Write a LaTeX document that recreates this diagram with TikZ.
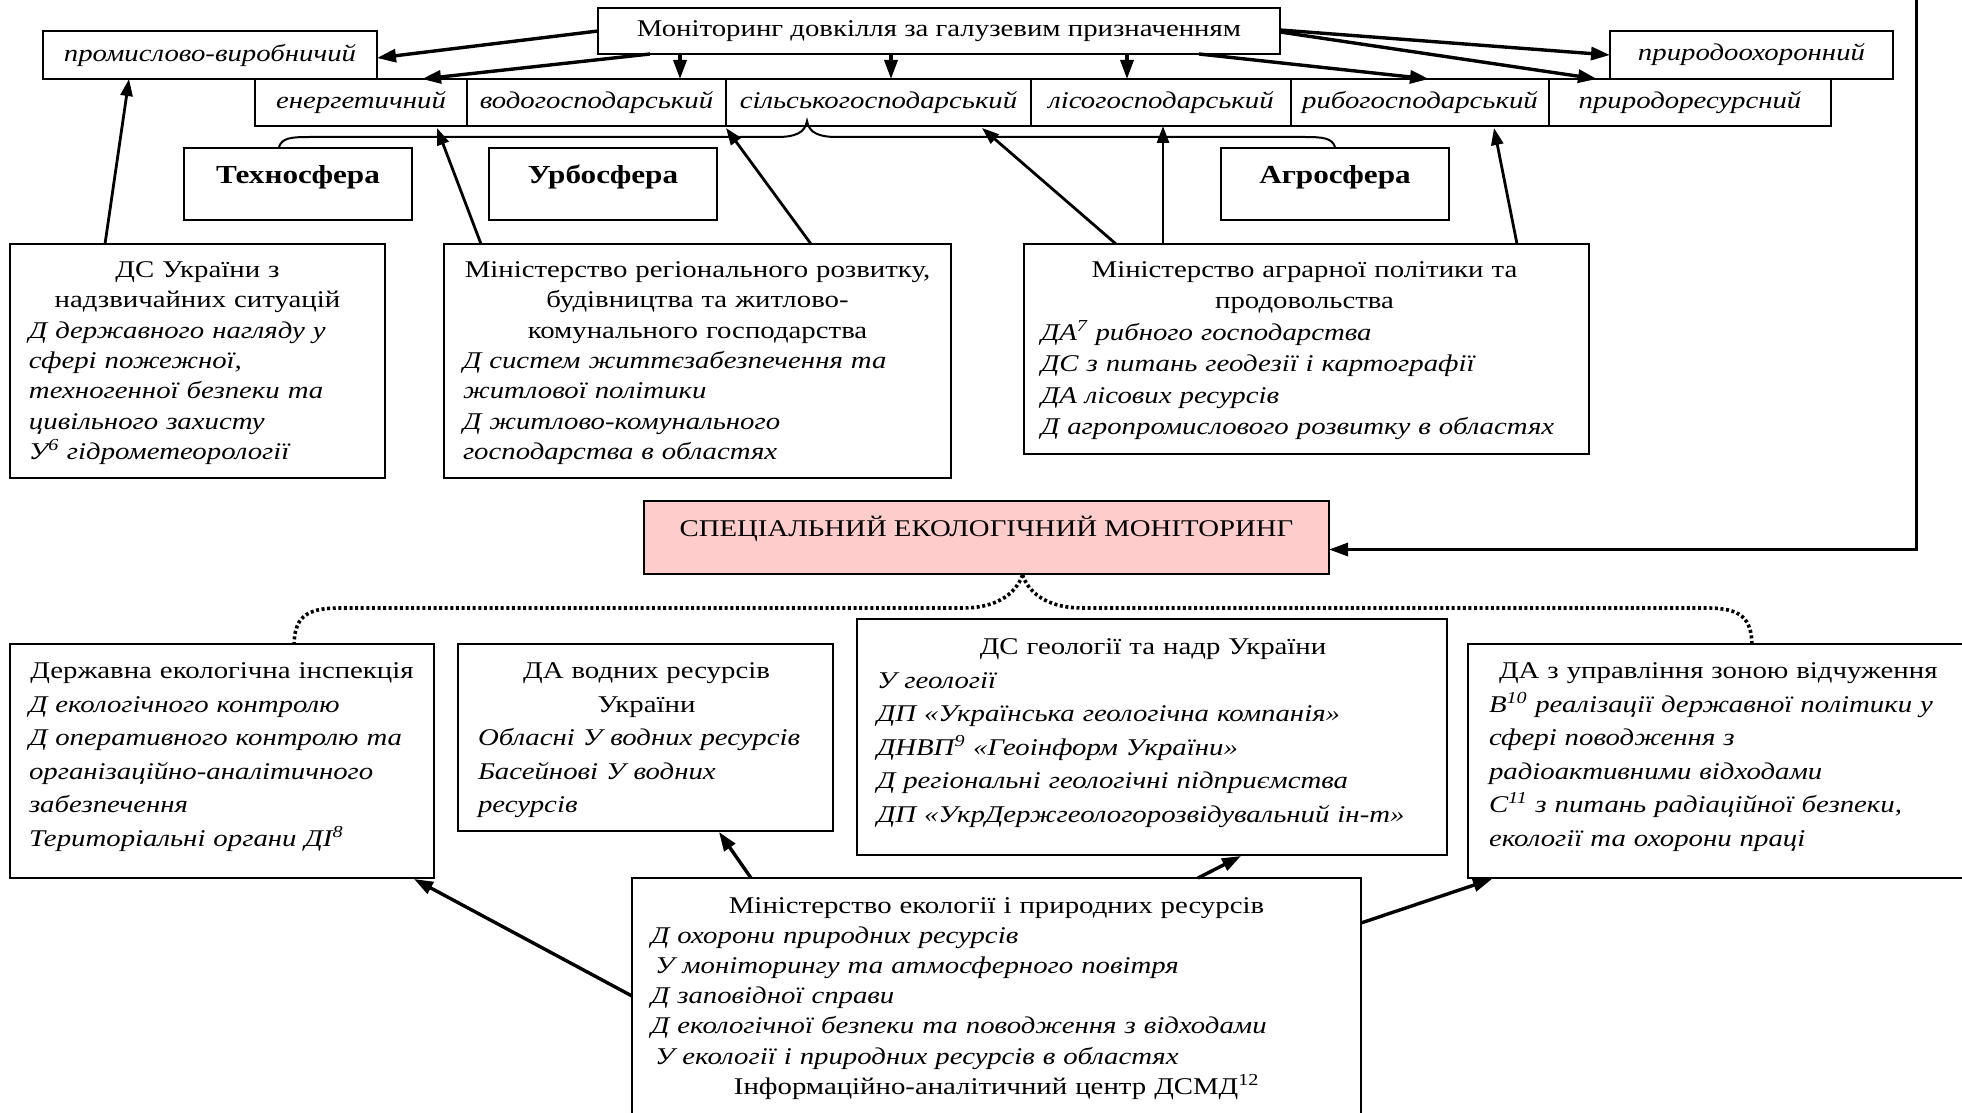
\documentclass[tikz,border=0pt]{standalone}
\usepackage{fontspec}
\setmainfont{Liberation Serif}[FakeStretch=1.2]
\usetikzlibrary{arrows.meta,calc}
\definecolor{specfill}{RGB}{255,204,204}
\newcommand\midline[1]{\centerline{#1}}
\newcommand\itline[1]{\leftline{\itshape #1}}
\begin{document}
\begin{tikzpicture}[x=1pt,y=-1pt,
  every node/.style={inner sep=0pt, outer sep=0pt},
  frame/.style={draw=black, line width=2.4pt, anchor=north west},
  single/.style={frame, font=\fontsize{24}{29}\selectfont},
  cell/.style={frame, minimum height=47pt, font=\fontsize{24}{29}\selectfont\itshape},
  sphere/.style={frame, minimum width=228pt, minimum height=72pt, font=\fontsize{26}{30}\selectfont\bfseries},
  body/.style={anchor=north west, align=left, text width=#1},
  tight/.style={font=\fontsize{24}{30.4}\selectfont},
  loose/.style={font=\fontsize{24}{33.5}\selectfont},
  link/.style={line width=3.4pt, -{Triangle[length=19pt,width=13pt]}},
  feeder/.style={line width=2.8pt, -{Triangle[length=17pt,width=12pt]}},
  brace/.style={line width=2pt},
  dots/.style={line width=3.6pt, dash pattern=on 3pt off 2.6pt},
]
\fill[white] (0,0) rectangle (1962,1113);
\useasboundingbox (0,0) rectangle (1962,1113);

% --- top level: branch monitoring
\node[single, minimum width=682pt, minimum height=46pt] (title) at (598,8)
  {Моніторинг довкілля за галузевим призначенням};
\node[single, minimum width=334pt, minimum height=48pt, font=\fontsize{24}{29}\selectfont\itshape] (prom) at (43,31)
  {промислово-виробничий};
\node[single, minimum width=283pt, minimum height=48pt, font=\fontsize{24}{29}\selectfont\itshape] (prirod) at (1610,31)
  {природоохоронний};

% --- row of branches
\node[cell, minimum width=212pt] (en)   at (255,79)  {енергетичний};
\node[cell, minimum width=259pt] (vod)  at (467,79)  {водогосподарський};
\node[cell, minimum width=305pt] (sil)  at (726,79)  {сільськогосподарський};
\node[cell, minimum width=260pt] (lis)  at (1031,79) {лісогосподарський};
\node[cell, minimum width=258pt] (ryb)  at (1291,79) {рибогосподарський};
\node[cell, minimum width=282pt] (pres) at (1549,79) {природоресурсний};

% --- spheres
\node[sphere] (techno) at (184,148) {\raisebox{7pt}[\height][\depth]{Техносфера}};
\node[sphere] (urbo)   at (489,148) {\raisebox{7pt}[\height][\depth]{Урбосфера}};
\node[sphere] (agro)   at (1221,148) {\raisebox{7pt}[\height][\depth]{Агросфера}};

% --- ministries of the upper tier
\node[frame, minimum width=375pt, minimum height=234pt] (dsns) at (10,244) {};
\node[body=337pt, tight] (dsns-t) at ([xshift=19pt,yshift=-12pt]dsns.north west) {%
  \midline{\strut ДС України з}
  \midline{надзвичайних ситуацій}
  \itline{Д державного нагляду у}
  \itline{сфері пожежної,}
  \itline{техногенної безпеки та}
  \itline{цивільного захисту}
  \itline{У\textsuperscript{6} гідрометеорології}};

\node[frame, minimum width=507pt, minimum height=234pt] (minreg) at (444,244) {};
\node[body=469pt, tight] (minreg-t) at ([xshift=19pt,yshift=-12pt]minreg.north west) {%
  \midline{\strut Міністерство регіонального розвитку,}
  \midline{будівництва та житлово-}
  \midline{комунального господарства}
  \itline{Д систем життєзабезпечення та}
  \itline{житлової політики}
  \itline{Д житлово-комунального}
  \itline{господарства в областях}};

\node[frame, minimum width=565pt, minimum height=210pt] (minagr) at (1024,244) {};
\node[body=527pt, font=\fontsize{24}{31.5}\selectfont] (minagr-t) at ([xshift=17pt,yshift=-11pt]minagr.north west) {%
  \midline{\strut Міністерство аграрної політики та}
  \midline{продовольства}
  \itline{ДА\textsuperscript{7} рибного господарства}
  \itline{ДС з питань геодезії і картографії}
  \itline{ДА лісових ресурсів}
  \itline{Д агропромислового розвитку в областях}};

% --- special monitoring
\node[frame, fill=specfill, minimum width=685pt, minimum height=73pt, font=\fontsize{24}{29}\selectfont] (spec) at (644,501)
  {\raisebox{8.5pt}[\height][\depth]{СПЕЦІАЛЬНИЙ ЕКОЛОГІЧНИЙ МОНІТОРИНГ}};

% --- lower tier
\node[frame, minimum width=424pt, minimum height=234pt] (dei) at (10,644) {};
\node[body=386pt, loose] (dei-t) at ([xshift=19pt,yshift=-11.5pt]dei.north west) {%
  \midline{\strut Державна екологічна інспекція}
  \itline{Д екологічного контролю}
  \itline{Д оперативного контролю та}
  \itline{організаційно-аналітичного}
  \itline{забезпечення}
  \itline{Територіальні органи ДІ\textsuperscript{8}}};

\node[frame, minimum width=375pt, minimum height=187pt] (dav) at (458,644) {};
\node[body=337pt, loose] (dav-t) at ([xshift=20pt,yshift=-11.5pt]dav.north west) {%
  \midline{\strut ДА водних ресурсів}
  \midline{України}
  \itline{Обласні У водних ресурсів}
  \itline{Басейнові У водних}
  \itline{ресурсів}};

\node[frame, minimum width=590pt, minimum height=236pt] (dsg) at (857,619) {};
\node[body=552pt, loose] (dsg-t) at ([xshift=20pt,yshift=-12.5pt]dsg.north west) {%
  \midline{\strut ДС геології та надр України}
  \itline{У геології}
  \itline{ДП «Українська геологічна компанія»}
  \itline{ДНВП\textsuperscript{9} «Геоінформ України»}
  \itline{Д регіональні геологічні підприємства}
  \itline{ДП «УкрДержгеологорозвідувальний ін-т»}};

\node[frame, minimum width=500pt, minimum height=234pt] (dazv) at (1468,644) {};
\node[body=462pt, loose] (dazv-t) at ([xshift=21pt,yshift=-11.5pt]dazv.north west) {%
  \leftline{\strut\hspace*{10pt}ДА з управління зоною відчуження}
  \itline{В\textsuperscript{10} реалізації державної політики у}
  \itline{сфері поводження з}
  \itline{радіоактивними відходами}
  \itline{С\textsuperscript{11} з питань радіаційної безпеки,}
  \itline{екології та охорони праці}};

\node[frame, minimum width=729pt, minimum height=260pt] (minekol) at (632,878) {};
\node[body=691pt, font=\fontsize{24}{30.2}\selectfont] (minekol-t) at ([xshift=19pt,yshift=-14pt]minekol.north west) {%
  \midline{\strut Міністерство екології і природних ресурсів}
  \itline{Д охорони природних ресурсів}
  \itline{\hspace*{4pt}У моніторингу та атмосферного повітря}
  \itline{Д заповідної справи}
  \itline{Д екологічної безпеки та поводження з відходами}
  \itline{\hspace*{4pt}У екології і природних ресурсів в областях}
  \midline{Інформаційно-аналітичний центр ДСМД\textsuperscript{12}}};

% --- arrows from the branch title
\draw[link] (title.west) -- ([yshift=-3pt]prom.east);
\draw[link] ([xshift=52pt]title.south west) -- ([xshift=61pt]en.north);
\draw[link] ([xshift=82pt]title.south west) -- ([xshift=82pt]title.south west |- vod.north);
\draw[link] ([xshift=293pt]title.south west) -- ([xshift=293pt]title.south west |- sil.north);
\draw[link] ([xshift=529pt]title.south west) -- ([xshift=529pt]title.south west |- lis.north);
\draw[link] ([xshift=-81pt]title.south east) -- ([xshift=9pt]ryb.north);
\draw[link] ([yshift=-1pt]title.east) -- ([xshift=48pt]pres.north west);
\draw[link] ([yshift=1pt]title.east) -- (prirod.west);

% --- ministries pointing at branches
\draw[feeder] ([xshift=95pt]dsns.north west) -- ([xshift=86pt]prom.south west);
\draw[feeder] ([xshift=37pt]minreg.north west) -- ([xshift=-30pt,yshift=-2pt]en.south east);
\draw[feeder] ([xshift=367pt]minreg.north west) -- ([yshift=-2pt]vod.south east);
\draw[feeder] ([xshift=92pt]minagr.north west) -- ([xshift=-49pt,yshift=-2pt]sil.south east);
\draw[feeder] ([xshift=139pt]minagr.north west) -- ([xshift=139pt]minagr.north west |- lis.south);
\draw[feeder] ([xshift=-72pt]minagr.north east) -- ([xshift=-55pt,yshift=-2pt]ryb.south east);

% --- brace grouping the spheres
\coordinate (bl) at ([xshift=-19pt,yshift=1pt]techno.north);
\coordinate (br) at ([yshift=1pt]agro.north);
\coordinate (bm) at ($(bl)!0.5!(br)+(0,-26)$);
\draw[brace] (bl) .. controls ($(bl)+(3,-9)$) and ($(bl)+(12,-10)$) .. ($(bl)+(30,-10)$)
  -- ($(bm)+(-30,16)$) .. controls ($(bm)+(-12,16)$) and ($(bm)+(-2,12)$) .. (bm)
  .. controls ($(bm)+(2,12)$) and ($(bm)+(12,16)$) .. ($(bm)+(30,16)$)
  -- ($(br)+(-30,-10)$) .. controls ($(br)+(-12,-10)$) and ($(br)+(-3,-9)$) .. (br);

% --- feedback line into special monitoring
\coordinate (feed) at (1916,0);
\draw[link, line width=3pt] (feed) |- ([yshift=-12pt]spec.east);

% --- dotted links to the lower tier
\coordinate (dtop) at ([xshift=36pt,yshift=-1pt]spec.south);
\coordinate (dl) at ([xshift=72pt]dei.north);
\coordinate (dr) at ([xshift=284pt]dazv.north west);
\draw[dots] (dtop) .. controls ($(dtop)+(-8,22)$) and ($(dtop)+(-30,33)$) .. ($(dtop)+(-60,33)$)
  -- ($(dl)+(45,-36)$) .. controls ($(dl)+(10,-36)$) and ($(dl)+(1,-25)$) .. (dl);
\draw[dots] (dtop) .. controls ($(dtop)+(8,22)$) and ($(dtop)+(30,33)$) .. ($(dtop)+(60,33)$)
  -- ($(dr)+(-45,-36)$) .. controls ($(dr)+(-10,-36)$) and ($(dr)+(-1,-25)$) .. (dr);

% --- ministry of ecology to its agencies
\draw[link] ([yshift=-118pt]minekol.north west) -- ([xshift=-20pt,yshift=-1pt]dei.south east);
\draw[link] ([xshift=119pt]minekol.north west) -- ([xshift=-114pt,yshift=-1pt]dav.south east);
\draw[link] ([xshift=566pt]minekol.north west) -- ([xshift=-206pt,yshift=-1pt]dsg.south east);
\draw[link] ([yshift=-45pt]minekol.north east) -- ([xshift=24pt,yshift=-1pt]dazv.south west);
\end{tikzpicture}
\end{document}
